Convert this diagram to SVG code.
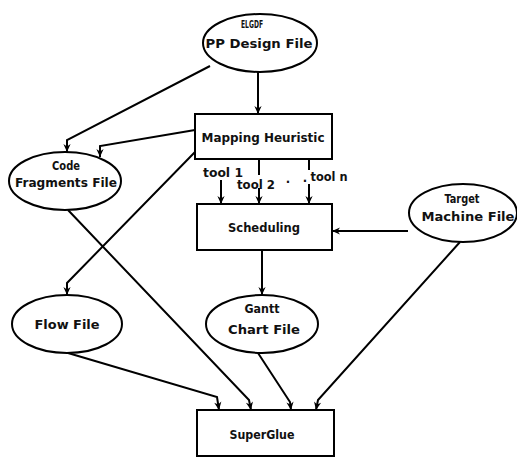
<svg xmlns="http://www.w3.org/2000/svg" width="517" height="458" viewBox="0 0 517 458">
<style>
.shape{fill:#fff;stroke:#000;stroke-width:2}
.lbl{font-family:"DejaVu Sans Condensed","DejaVu Sans",sans-serif;font-weight:bold;font-size:13px;fill:#111;text-anchor:middle}
.sm{font-size:10px}
.md{font-size:11.5px}
.edge{fill:none;stroke:#000;stroke-width:2}
.arr{marker-end:url(#ah)}
</style>
<defs>
<marker id="ah" viewBox="0 0 10 10" refX="10" refY="5" markerWidth="9" markerHeight="8" orient="auto" markerUnits="userSpaceOnUse">
<path d="M0,0.5 L10,5 L0,9.5 L3,5 z" fill="#000"/>
</marker>
</defs>
<rect width="517" height="458" fill="#fff"/>
<g id="connectors">
<path class="edge arr" d="M258,72 L258,114"/>
<path class="edge arr" d="M210,66 L67,140 L67,152"/>
<path class="edge arr" d="M195,130 L100,146 L100,157"/>
<path class="edge arr" d="M195,152 L67,283 L67,295"/>
<path class="edge arr" d="M221,180 L221,204"/>
<path class="edge" d="M259,159 L259,175"/>
<path class="edge arr" d="M259,188 L259,204"/>
<path class="edge" d="M309,159 L309,170"/>
<path class="edge arr" d="M309,184 L309,204"/>
<path class="edge arr" d="M408,231 L332,231"/>
<path class="edge arr" d="M262,250 L262,295"/>
<path class="edge arr" d="M68,353 L217,397 L219,410"/>
<path class="edge arr" d="M68,210 L249,400 L251,410"/>
<path class="edge arr" d="M258,353 L290,402 L291,410"/>
<path class="edge arr" d="M460,242 L318,400 L316,410"/>
</g>
<g id="elgdf">
<ellipse class="shape" cx="260" cy="43" rx="57" ry="29"/>
<text class="lbl sm" x="252" y="28" textLength="22" lengthAdjust="spacingAndGlyphs">ELGDF</text>
<text class="lbl" x="259" y="48" textLength="107" lengthAdjust="spacingAndGlyphs">PP Design File</text>
</g>
<g id="mapping">
<rect class="shape" x="195" y="114" width="137" height="45"/>
<text class="lbl" x="263" y="142" textLength="123" lengthAdjust="spacingAndGlyphs">Mapping Heuristic</text>
</g>
<g id="code">
<ellipse class="shape" cx="65" cy="181" rx="56" ry="29"/>
<text class="lbl md" x="66" y="170" textLength="28" lengthAdjust="spacingAndGlyphs">Code</text>
<text class="lbl" x="66" y="187" textLength="102" lengthAdjust="spacingAndGlyphs">Fragments File</text>
</g>
<g id="tools">
<text class="lbl" x="223" y="177" textLength="40" lengthAdjust="spacingAndGlyphs">tool 1</text>
<text class="lbl" x="256" y="189" textLength="38" lengthAdjust="spacingAndGlyphs">tool 2</text>
<text class="lbl" x="288" y="186">·</text>
<text class="lbl" x="305" y="182">.</text>
<text class="lbl" x="329" y="181" textLength="37" lengthAdjust="spacingAndGlyphs">tool n</text>
</g>
<g id="scheduling">
<rect class="shape" x="197" y="204" width="135" height="46"/>
<text class="lbl" x="264" y="232" textLength="72" lengthAdjust="spacingAndGlyphs">Scheduling</text>
</g>
<g id="target">
<ellipse class="shape" cx="463" cy="213" rx="54" ry="29"/>
<text class="lbl md" x="462" y="203" textLength="35" lengthAdjust="spacingAndGlyphs">Target</text>
<text class="lbl" x="468" y="221" textLength="93" lengthAdjust="spacingAndGlyphs">Machine File</text>
</g>
<g id="flow">
<ellipse class="shape" cx="67" cy="324" rx="55" ry="29"/>
<text class="lbl" x="67" y="329" textLength="65" lengthAdjust="spacingAndGlyphs">Flow File</text>
</g>
<g id="gantt">
<ellipse class="shape" cx="262" cy="324" rx="56" ry="29"/>
<text class="lbl md" x="262" y="313" textLength="35" lengthAdjust="spacingAndGlyphs">Gantt</text>
<text class="lbl" x="264" y="334" textLength="72" lengthAdjust="spacingAndGlyphs">Chart File</text>
</g>
<g id="superglue">
<rect class="shape" x="197" y="410" width="137" height="46"/>
<text class="lbl" x="262" y="439" textLength="65" lengthAdjust="spacingAndGlyphs">SuperGlue</text>
</g>
</svg>
